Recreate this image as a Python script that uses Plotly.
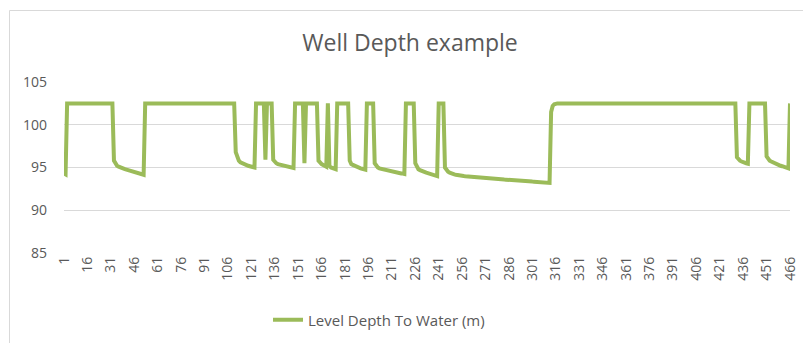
import plotly.graph_objects as go

title_text = "Well Depth example"
series_name = "Level Depth To Water (m)"

# Level depth to water (m), one value per reading, index 1..466
depth = [
    # 1-2
    94.3, 94.2,
    # 3-32
    102.5, 102.5, 102.5, 102.5, 102.5, 102.5, 102.5, 102.5, 102.5, 102.5,
    102.5, 102.5, 102.5, 102.5, 102.5, 102.5, 102.5, 102.5, 102.5, 102.5,
    102.5, 102.5, 102.5, 102.5, 102.5, 102.5, 102.5, 102.5, 102.5, 102.5,
    # 33-51
    95.8, 95.4, 95.2, 95.1, 95.0, 94.9, 94.85, 94.8, 94.75, 94.7,
    94.6, 94.55, 94.5, 94.45, 94.4, 94.35, 94.3, 94.25, 94.2,
    # 52
    94.15,
    # 53-110
    102.5, 102.5, 102.5, 102.5, 102.5, 102.5, 102.5, 102.5, 102.5, 102.5,
    102.5, 102.5, 102.5, 102.5, 102.5, 102.5, 102.5, 102.5, 102.5, 102.5,
    102.5, 102.5, 102.5, 102.5, 102.5, 102.5, 102.5, 102.5, 102.5, 102.5,
    102.5, 102.5, 102.5, 102.5, 102.5, 102.5, 102.5, 102.5, 102.5, 102.5,
    102.5, 102.5, 102.5, 102.5, 102.5, 102.5, 102.5, 102.5, 102.5, 102.5,
    102.5, 102.5, 102.5, 102.5, 102.5, 102.5, 102.5, 102.5,
    # 111-123
    96.8, 96.1, 95.8, 95.6, 95.5, 95.4, 95.3, 95.25, 95.2, 95.15,
    95.1, 95.05, 95.0,
    # 124-129
    102.5, 102.5, 102.5, 102.5, 102.5, 102.5,
    # 130
    95.9,
    # 131-134
    102.5, 102.5, 102.5, 102.5,
    # 135-148
    95.9, 95.6, 95.5, 95.4, 95.35, 95.3, 95.25, 95.2, 95.15, 95.1,
    95.1, 95.05, 95.0, 94.95,
    # 149-154
    102.5, 102.5, 102.5, 102.5, 102.5, 102.5,
    # 155
    95.5,
    # 156-163
    102.5, 102.5, 102.5, 102.5, 102.5, 102.5, 102.5, 102.5,
    # 164-169
    95.8, 95.5, 95.4, 95.3, 95.2, 95.1,
    # 170
    102.5,
    # 171-175
    95.2, 95.0, 94.95, 94.9, 94.8,
    # 176-183
    102.5, 102.5, 102.5, 102.5, 102.5, 102.5, 102.5, 102.5,
    # 184-194
    95.8, 95.4, 95.3, 95.2, 95.1, 95.0, 94.95, 94.9, 94.85, 94.8,
    94.75,
    # 195-199
    102.5, 102.5, 102.5, 102.5, 102.5,
    # 200-219
    95.5, 95.2, 95.0, 94.9, 94.85, 94.8, 94.75, 94.7, 94.65, 94.6,
    94.55, 94.5, 94.5, 94.45, 94.4, 94.4, 94.35, 94.3, 94.3, 94.25,
    # 220-225
    102.5, 102.5, 102.5, 102.5, 102.5, 102.5,
    # 226-240
    95.5, 95.0, 94.8, 94.7, 94.6, 94.5, 94.45, 94.4, 94.35, 94.3,
    94.2, 94.15, 94.1, 94.05, 94.0,
    # 241-244
    102.5, 102.5, 102.5, 102.5,
    # 245-312
    95.0, 94.7, 94.5, 94.4, 94.3, 94.25, 94.2, 94.15, 94.1, 94.08,
    94.05, 94.02, 94.0, 93.98, 93.96, 93.94, 93.92, 93.9, 93.88, 93.86,
    93.84, 93.82, 93.8, 93.79, 93.78, 93.76, 93.75, 93.74, 93.72, 93.71,
    93.7, 93.68, 93.67, 93.66, 93.64, 93.63, 93.62, 93.6, 93.59, 93.58,
    93.56, 93.55, 93.54, 93.52, 93.51, 93.5, 93.48, 93.47, 93.46, 93.44,
    93.43, 93.42, 93.4, 93.39, 93.38, 93.36, 93.35, 93.34, 93.32, 93.31,
    93.3, 93.28, 93.27, 93.26, 93.25, 93.24, 93.22, 93.2,
    # 313-315
    101.5, 102.2, 102.4,
    # 316-431
    102.5, 102.5, 102.5, 102.5, 102.5, 102.5, 102.5, 102.5, 102.5, 102.5,
    102.5, 102.5, 102.5, 102.5, 102.5, 102.5, 102.5, 102.5, 102.5, 102.5,
    102.5, 102.5, 102.5, 102.5, 102.5, 102.5, 102.5, 102.5, 102.5, 102.5,
    102.5, 102.5, 102.5, 102.5, 102.5, 102.5, 102.5, 102.5, 102.5, 102.5,
    102.5, 102.5, 102.5, 102.5, 102.5, 102.5, 102.5, 102.5, 102.5, 102.5,
    102.5, 102.5, 102.5, 102.5, 102.5, 102.5, 102.5, 102.5, 102.5, 102.5,
    102.5, 102.5, 102.5, 102.5, 102.5, 102.5, 102.5, 102.5, 102.5, 102.5,
    102.5, 102.5, 102.5, 102.5, 102.5, 102.5, 102.5, 102.5, 102.5, 102.5,
    102.5, 102.5, 102.5, 102.5, 102.5, 102.5, 102.5, 102.5, 102.5, 102.5,
    102.5, 102.5, 102.5, 102.5, 102.5, 102.5, 102.5, 102.5, 102.5, 102.5,
    102.5, 102.5, 102.5, 102.5, 102.5, 102.5, 102.5, 102.5, 102.5, 102.5,
    102.5, 102.5, 102.5, 102.5, 102.5, 102.5,
    # 432-439
    96.2, 95.9, 95.8, 95.7, 95.6, 95.55, 95.5, 95.45,
    # 440-450
    102.5, 102.5, 102.5, 102.5, 102.5, 102.5, 102.5, 102.5, 102.5, 102.5,
    102.5,
    # 451-465
    96.3, 96.0, 95.8, 95.7, 95.6, 95.5, 95.4, 95.35, 95.3, 95.2,
    95.15, 95.1, 95.0, 94.95, 94.9,
    # 466
    102.5,
]

reading = list(range(1, len(depth) + 1))

x_tick_values = [1, 16, 31, 46, 61, 76, 91, 106, 121, 136, 151, 166, 181, 196,
                 211, 226, 241, 256, 271, 286, 301, 316, 331, 346, 361, 376,
                 391, 406, 421, 436, 451, 466]
y_tick_values = [85, 90, 95, 100, 105]

FONT = "Open Sans"
TXT = "#595959"
GRID = "#D9D9D9"
LINE = "#9BBB59"

W, H = 803, 343
ML, MR, MT, MB = 64, 13, 82, 90
PW, PH = W - ML - MR, H - MT - MB


def px_x(p):
    return (p - ML) / PW


def px_y(p):
    return (H - MB - p) / PH


fig = go.Figure()
fig.add_trace(go.Scatter(
    x=reading, y=depth, mode="lines", name=series_name,
    line=dict(color=LINE, width=4),
    showlegend=True,
))

fig.update_layout(
    width=W, height=H,
    margin=dict(l=ML, r=MR, t=MT, b=MB, pad=0, autoexpand=False),
    paper_bgcolor="white", plot_bgcolor="white",
    font=dict(family=FONT, color=TXT, size=13),
    title=dict(text=title_text, x=px_x(410), xref="paper", xanchor="center",
               y=1 - 43 / H, yanchor="middle",
               font=dict(family=FONT, size=23, color=TXT)),
    xaxis=dict(range=[1, len(depth)], tickmode="array", tickvals=x_tick_values,
               ticktext=[str(v) for v in x_tick_values], tickangle=-90,
               showgrid=False, zeroline=False, showline=False, ticks="",
               automargin=False,
               tickfont=dict(family=FONT, size=14, color=TXT)),
    yaxis=dict(range=[85, 105], tickmode="array", tickvals=y_tick_values,
               showgrid=True, gridcolor=GRID, gridwidth=1, zeroline=False,
               showline=False, ticks="", ticklabelstandoff=16,
               automargin=False,
               tickfont=dict(family=FONT, size=14, color=TXT)),
    legend=dict(orientation="h", x=px_x(268), xanchor="left",
                y=px_y(320), yanchor="middle", bgcolor="rgba(0,0,0,0)",
                font=dict(family=FONT, size=15, color=TXT)),
    shapes=[dict(type="rect", xref="paper", yref="paper",
                 x0=px_x(9.5), x1=px_x(815), y0=px_y(355), y1=px_y(10.5),
                 line=dict(color=GRID, width=1), fillcolor="rgba(0,0,0,0)",
                 layer="below")],
)

fig.write_html("out.html")
